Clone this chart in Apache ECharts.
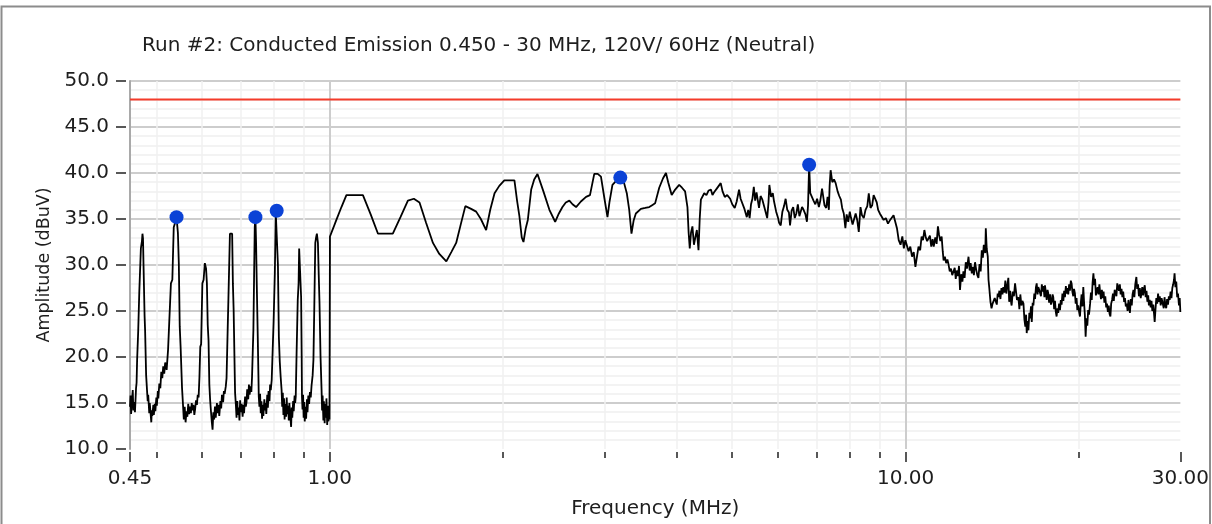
<!DOCTYPE html>
<html>
<head>
<meta charset="utf-8">
<script src="https://cdn.jsdelivr.net/npm/echarts@6/dist/echarts.min.js"></script>
<style>
  html, body { margin: 0; padding: 0; background: #ffffff; }
  #chart { width: 1212px; height: 524px; }
</style>
</head>
<body>
<div id="chart"></div>
<script>
// Run #2 conducted emission scan, neutral line, 0.45 - 30 MHz
const titleText = 'Run #2: Conducted Emission 0.450 - 30 MHz, 120V/ 60Hz (Neutral)';
const xAxisTitle = 'Frequency (MHz)';
const yAxisTitle = 'Amplitude (dBuV)';

// tick positions on the frequency axis (MHz)
const freqMajorTicks = [0.45, 1, 10, 30];
const freqMinorTicks = [0.5, 0.6, 0.7, 0.8, 0.9, 2, 3, 4, 5, 6, 7, 8, 9, 20];

// amplitude axis range (dBuV)
const ampMin = 10;
const ampMax = 50;
const ampStep = 5;

// limit level (dBuV)
const limitLevel = 48.0;

// highlighted peaks [MHz, dBuV]
const peaks = [
  [0.542, 35.2],
  [0.743, 35.2],
  [0.809, 35.9],
  [3.196, 39.5],
  [6.800, 40.9]
];

// measured trace [MHz, dBuV]
const trace = [
  [0.450, 14.6], [0.451, 15.8], [0.452, 13.8], [0.453, 14.9], [0.455, 16.4], [0.456, 14.2],
  [0.458, 15.1], [0.459, 14.0], [0.461, 16.6], [0.462, 17.2], [0.463, 19.7], [0.465, 22.8],
  [0.467, 27.0], [0.469, 27.2], [0.470, 31.8], [0.472, 32.6], [0.473, 33.4], [0.474, 32.9],
  [0.475, 30.0], [0.477, 24.5], [0.478, 22.9], [0.480, 18.0], [0.482, 16.1], [0.483, 15.2],
  [0.484, 15.9], [0.486, 13.9], [0.487, 15.0], [0.488, 14.3], [0.490, 12.9], [0.491, 14.2],
  [0.492, 13.6], [0.494, 14.8], [0.495, 13.7], [0.497, 14.9], [0.498, 14.1], [0.500, 15.6],
  [0.501, 14.7], [0.503, 16.3], [0.504, 15.5], [0.506, 17.1], [0.508, 16.6], [0.510, 18.4],
  [0.512, 17.7], [0.514, 19.0], [0.516, 18.2], [0.518, 19.4], [0.521, 18.6], [0.524, 20.8],
  [0.527, 21.0], [0.530, 28.0], [0.533, 28.4], [0.536, 34.1], [0.539, 34.6], [0.542, 35.2],
  [0.545, 33.5], [0.547, 30.2], [0.549, 23.3], [0.551, 21.0], [0.554, 16.7], [0.556, 15.0],
  [0.558, 13.2], [0.560, 14.6], [0.562, 12.9], [0.564, 14.1], [0.566, 13.5], [0.568, 14.9],
  [0.570, 13.8], [0.572, 14.6], [0.574, 13.9], [0.576, 15.0], [0.578, 14.2], [0.580, 14.8],
  [0.582, 13.7], [0.584, 14.4], [0.586, 15.3], [0.588, 14.8], [0.590, 15.9], [0.592, 15.6],
  [0.594, 17.8], [0.596, 21.1], [0.598, 21.4], [0.601, 28.0], [0.604, 28.4], [0.607, 30.2],
  [0.610, 29.6], [0.612, 28.0], [0.614, 23.5], [0.616, 21.8], [0.618, 17.0], [0.620, 15.3],
  [0.622, 14.1], [0.624, 13.0], [0.626, 12.1], [0.628, 14.0], [0.630, 13.2], [0.632, 14.6],
  [0.634, 13.4], [0.637, 15.0], [0.639, 13.9], [0.641, 14.8], [0.643, 13.6], [0.646, 15.2],
  [0.648, 14.4], [0.650, 15.9], [0.653, 15.1], [0.655, 16.3], [0.657, 16.0], [0.660, 16.8],
  [0.662, 17.7], [0.665, 23.0], [0.667, 26.4], [0.669, 26.6], [0.671, 33.4], [0.674, 33.4],
  [0.677, 33.4], [0.679, 28.0], [0.681, 25.2], [0.682, 22.9], [0.684, 18.2], [0.685, 16.1],
  [0.687, 14.9], [0.689, 13.4], [0.691, 15.2], [0.693, 13.7], [0.695, 14.5], [0.697, 13.1],
  [0.699, 15.3], [0.701, 14.0], [0.703, 14.9], [0.706, 13.5], [0.708, 14.8], [0.710, 13.9],
  [0.713, 15.7], [0.715, 14.6], [0.717, 15.1], [0.719, 16.5], [0.722, 15.4], [0.724, 17.0],
  [0.726, 15.9], [0.729, 16.8], [0.731, 16.2], [0.733, 17.8], [0.735, 20.4], [0.737, 22.9],
  [0.739, 28.5], [0.741, 34.1], [0.743, 35.2], [0.745, 32.4], [0.747, 28.0], [0.750, 22.2],
  [0.752, 18.0], [0.753, 15.7], [0.755, 14.6], [0.757, 16.0], [0.759, 13.9], [0.761, 15.2],
  [0.763, 13.3], [0.765, 14.8], [0.767, 13.6], [0.770, 15.4], [0.772, 14.2], [0.774, 15.0],
  [0.776, 13.8], [0.779, 15.9], [0.781, 14.5], [0.783, 16.3], [0.786, 15.2], [0.788, 17.0],
  [0.790, 16.4], [0.793, 17.5], [0.796, 17.5], [0.799, 23.8], [0.803, 29.1], [0.806, 35.7],
  [0.809, 35.9], [0.811, 35.5], [0.813, 30.0], [0.816, 22.2], [0.819, 19.5], [0.822, 17.8],
  [0.825, 16.4], [0.827, 14.6], [0.829, 16.1], [0.831, 13.7], [0.833, 15.5], [0.835, 13.2],
  [0.837, 14.9], [0.840, 13.5], [0.842, 15.6], [0.844, 13.8], [0.847, 14.7], [0.849, 13.1],
  [0.851, 15.0], [0.854, 13.6], [0.857, 12.4], [0.859, 14.5], [0.861, 13.4], [0.864, 15.2],
  [0.866, 14.1], [0.869, 15.8], [0.871, 15.0], [0.873, 15.7], [0.876, 20.5], [0.880, 26.2],
  [0.883, 28.0], [0.885, 31.8], [0.888, 29.5], [0.892, 26.5], [0.894, 20.0], [0.895, 15.7],
  [0.897, 14.3], [0.899, 15.9], [0.901, 13.4], [0.903, 15.1], [0.905, 13.0], [0.908, 14.6],
  [0.910, 13.3], [0.913, 15.4], [0.915, 14.0], [0.918, 15.8], [0.921, 14.9], [0.924, 16.2],
  [0.927, 15.6], [0.930, 16.9], [0.934, 18.0], [0.937, 19.7], [0.940, 25.0], [0.944, 32.4],
  [0.947, 33.0], [0.950, 33.4], [0.954, 32.4], [0.957, 29.0], [0.960, 25.9], [0.964, 20.0],
  [0.968, 16.4], [0.970, 14.2], [0.972, 15.8], [0.975, 13.1], [0.977, 15.2], [0.980, 12.8],
  [0.982, 14.9], [0.985, 13.4], [0.987, 15.5], [0.990, 12.6], [0.992, 14.7], [0.995, 13.0],
  [0.997, 14.4], [0.999, 13.2],
  [1.001, 33.1], [1.014, 34.0], [1.027, 34.9], [1.048, 36.3], [1.069, 37.6], [1.100, 37.6],
  [1.142, 37.6], [1.178, 35.5], [1.213, 33.4], [1.250, 33.4], [1.287, 33.4], [1.327, 35.2],
  [1.367, 37.0], [1.400, 37.2], [1.432, 36.8], [1.470, 34.6], [1.511, 32.4], [1.550, 31.2],
  [1.594, 30.4], [1.626, 31.4], [1.658, 32.4], [1.690, 34.5], [1.720, 36.4], [1.760, 36.1],
  [1.796, 35.8], [1.830, 35.0], [1.869, 33.8], [1.900, 36.0], [1.933, 37.8], [1.970, 38.6],
  [2.010, 39.2], [2.050, 39.2], [2.093, 39.2], [2.115, 37.0], [2.135, 35.3], [2.155, 33.0],
  [2.170, 32.5], [2.190, 34.0], [2.208, 34.9], [2.238, 38.2], [2.265, 39.3], [2.295, 39.9],
  [2.350, 38.0], [2.407, 36.0], [2.463, 34.7], [2.500, 35.6], [2.536, 36.3], [2.570, 36.8],
  [2.607, 37.0], [2.640, 36.6], [2.678, 36.3], [2.730, 36.9], [2.787, 37.4], [2.831, 37.6],
  [2.880, 39.9], [2.920, 39.9], [2.958, 39.6], [3.000, 37.2], [3.036, 35.2], [3.060, 36.8],
  [3.097, 38.7], [3.150, 39.2], [3.196, 39.5], [3.245, 38.9], [3.280, 37.8], [3.312, 36.0],
  [3.342, 33.4], [3.370, 34.8], [3.401, 35.6], [3.470, 36.1], [3.530, 36.2], [3.588, 36.3],
  [3.630, 36.5], [3.673, 36.7], [3.734, 38.4], [3.790, 39.4], [3.836, 40.0], [3.870, 39.0],
  [3.925, 37.6], [3.980, 38.2], [4.044, 38.7], [4.090, 38.4], [4.141, 38.0], [4.180, 36.3],
  [4.200, 33.5], [4.219, 31.8], [4.240, 33.5], [4.264, 34.2], [4.290, 32.2], [4.311, 32.9],
  [4.340, 33.8], [4.369, 31.6], [4.390, 35.0], [4.411, 37.1], [4.470, 37.8], [4.510, 37.6],
  [4.550, 38.1], [4.591, 38.2], [4.620, 37.6], [4.650, 37.9], [4.700, 38.3], [4.775, 38.9],
  [4.810, 38.0], [4.853, 37.4], [4.900, 37.6], [4.959, 37.2], [5.000, 36.6], [5.050, 36.2],
  [5.090, 36.9], [5.138, 38.2], [5.170, 37.2], [5.200, 37.0], [5.250, 36.1], [5.300, 35.2],
  [5.330, 36.0], [5.360, 35.1], [5.390, 36.6], [5.420, 37.2], [5.450, 38.5], [5.480, 37.0],
  [5.510, 37.9], [5.565, 36.2], [5.600, 37.5], [5.640, 37.1], [5.690, 36.2], [5.750, 35.1],
  [5.780, 36.8], [5.800, 38.7], [5.840, 37.4], [5.880, 37.8], [5.910, 36.9], [5.960, 35.8],
  [6.000, 35.2], [6.030, 34.6], [6.070, 34.3], [6.110, 35.8], [6.150, 36.4], [6.190, 37.2],
  [6.230, 36.0], [6.272, 35.7], [6.300, 34.3], [6.340, 35.9], [6.380, 36.3], [6.420, 35.1],
  [6.460, 35.6], [6.500, 36.6], [6.540, 35.3], [6.570, 35.3], [6.610, 36.3], [6.650, 36.0],
  [6.700, 35.5], [6.740, 34.7], [6.770, 36.5], [6.800, 40.9], [6.830, 37.8], [6.870, 37.8],
  [6.920, 37.0], [6.970, 36.6], [7.020, 37.2], [7.070, 36.3], [7.110, 37.0], [7.160, 38.3],
  [7.230, 36.5], [7.280, 36.2], [7.320, 37.4], [7.358, 36.0], [7.380, 38.6], [7.410, 40.3],
  [7.460, 39.0], [7.510, 39.3], [7.560, 38.9], [7.620, 38.0], [7.670, 37.5], [7.720, 37.1],
  [7.760, 36.2], [7.810, 35.6], [7.860, 34.0], [7.900, 35.5], [7.950, 34.7], [8.000, 35.8],
  [8.040, 35.1], [8.090, 34.4], [8.140, 34.2], [8.190, 35.6], [8.240, 34.9], [8.293, 33.6],
  [8.350, 36.3], [8.400, 35.4], [8.460, 35.1], [8.520, 36.0], [8.580, 36.4], [8.631, 37.8],
  [8.690, 36.2], [8.750, 36.5], [8.800, 37.6], [8.860, 37.8], [8.910, 36.8], [8.960, 36.0],
  [9.020, 35.6], [9.080, 35.3], [9.160, 34.9], [9.240, 35.1], [9.320, 34.5], [9.400, 34.9],
  [9.470, 34.7], [9.530, 35.4], [9.600, 35.2], [9.660, 34.0], [9.728, 32.7], [9.800, 32.2],
  [9.870, 33.1], [9.930, 31.8], [9.990, 32.7],
  [10.05, 32.9], [10.12, 31.5], [10.19, 32.0], [10.26, 30.9], [10.33, 31.4], [10.40, 29.8],
  [10.47, 31.0], [10.53, 32.0], [10.60, 31.6], [10.66, 33.1], [10.72, 32.7], [10.78, 33.8],
  [10.84, 33.0], [10.90, 32.6], [10.96, 32.4], [11.02, 33.2], [11.08, 32.0], [11.14, 32.8],
  [11.19, 32.0], [11.26, 33.0], [11.32, 32.3], [11.38, 34.2], [11.43, 33.3], [11.49, 32.6],
  [11.55, 33.1], [11.60, 31.5], [11.64, 30.5], [11.70, 30.9], [11.76, 30.2], [11.82, 30.6],
  [11.87, 30.1], [11.93, 29.3], [11.99, 29.6], [12.05, 28.9], [12.11, 28.7], [12.17, 29.7],
  [12.22, 28.5], [12.27, 29.4], [12.33, 28.8], [12.38, 29.9], [12.43, 27.3], [12.49, 29.0],
  [12.55, 28.2], [12.60, 29.3], [12.66, 28.6], [12.72, 30.3], [12.78, 29.6], [12.86, 30.9],
  [12.92, 29.4], [12.97, 30.2], [13.03, 29.1], [13.09, 29.8], [13.14, 28.9], [13.20, 30.3],
  [13.26, 29.5], [13.32, 28.9], [13.38, 28.6], [13.44, 30.1], [13.50, 29.3], [13.56, 31.6],
  [13.62, 30.8], [13.67, 32.2], [13.71, 32.4], [13.75, 31.3], [13.78, 34.0], [13.83, 31.8],
  [13.89, 30.9], [13.93, 28.4], [13.97, 27.6], [14.04, 26.0], [14.10, 25.3], [14.16, 25.8],
  [14.22, 25.6], [14.28, 26.4], [14.33, 26.2], [14.40, 25.7], [14.45, 26.9], [14.49, 26.5],
  [14.55, 27.2], [14.61, 26.3], [14.67, 27.5], [14.73, 26.8], [14.78, 27.6], [14.84, 27.0],
  [14.90, 28.3], [14.96, 26.9], [15.02, 27.8], [15.08, 28.6], [15.13, 26.0], [15.19, 27.2],
  [15.25, 25.9], [15.28, 25.6], [15.35, 27.1], [15.42, 26.6], [15.49, 28.0], [15.55, 27.1],
  [15.61, 26.2], [15.70, 26.5], [15.76, 25.2], [15.82, 26.8], [15.89, 25.6], [15.95, 26.1],
  [16.02, 25.8], [16.08, 24.1], [16.14, 23.3], [16.19, 24.6], [16.23, 22.6], [16.28, 23.9],
  [16.34, 22.9], [16.40, 24.8], [16.45, 24.2], [16.51, 25.5], [16.56, 23.8], [16.62, 25.9],
  [16.67, 25.6], [16.73, 26.9], [16.78, 26.3], [16.84, 27.6], [16.89, 28.0], [16.95, 26.8],
  [17.00, 27.6], [17.06, 27.3], [17.12, 27.3], [17.18, 26.6], [17.24, 27.9], [17.30, 27.1],
  [17.36, 27.7], [17.42, 26.5], [17.46, 27.8], [17.52, 27.0], [17.58, 26.2], [17.64, 27.3],
  [17.69, 26.9], [17.75, 25.9], [17.82, 26.8], [17.88, 25.7], [17.94, 26.0], [18.00, 26.8],
  [18.05, 26.5], [18.11, 25.2], [18.17, 26.1], [18.23, 24.9], [18.29, 24.4], [18.35, 25.3],
  [18.41, 24.8], [18.47, 25.8], [18.54, 25.1], [18.60, 26.2], [18.66, 25.7], [18.72, 26.9],
  [18.79, 26.1], [18.85, 27.2], [18.91, 26.5], [18.98, 27.7], [19.04, 26.9], [19.10, 27.5],
  [19.16, 26.8], [19.23, 27.9], [19.29, 27.2], [19.36, 28.3], [19.42, 28.0], [19.48, 27.1],
  [19.55, 26.6], [19.61, 27.4], [19.68, 26.9], [19.74, 25.8], [19.81, 26.4], [19.87, 25.1],
  [19.94, 25.6], [20.01, 24.9], [20.08, 24.4], [20.15, 25.9], [20.21, 26.8], [20.28, 25.5],
  [20.35, 27.6], [20.41, 26.0], [20.48, 24.5], [20.54, 22.2], [20.61, 24.2], [20.68, 23.4],
  [20.75, 25.1], [20.82, 24.6], [20.91, 25.8], [20.98, 27.0], [21.05, 26.2], [21.12, 28.1],
  [21.19, 29.1], [21.26, 27.8], [21.33, 28.5], [21.40, 26.7], [21.48, 26.5], [21.55, 27.6],
  [21.62, 26.8], [21.70, 27.9], [21.77, 27.0], [21.84, 26.3], [21.92, 27.3], [21.99, 26.4],
  [22.07, 27.1], [22.14, 25.9], [22.22, 26.6], [22.30, 25.4], [22.37, 25.8], [22.45, 24.9],
  [22.53, 25.6], [22.60, 24.7], [22.68, 24.4], [22.75, 25.8], [22.83, 26.2], [22.91, 26.9],
  [22.99, 26.1], [23.07, 27.3], [23.15, 27.3], [23.23, 26.6], [23.31, 28.0], [23.39, 28.0],
  [23.47, 27.2], [23.55, 27.9], [23.63, 26.8], [23.71, 27.4], [23.79, 26.5], [23.87, 27.1],
  [23.96, 26.0], [24.04, 26.4], [24.12, 25.5], [24.21, 25.8], [24.29, 25.0], [24.38, 26.2],
  [24.46, 25.3], [24.52, 24.8], [24.61, 26.3], [24.70, 25.6], [24.78, 26.8], [24.87, 27.3],
  [24.96, 26.5], [25.05, 27.9], [25.16, 28.7], [25.24, 27.4], [25.33, 27.9], [25.42, 26.6],
  [25.51, 27.5], [25.60, 26.4], [25.67, 26.9], [25.76, 27.6], [25.85, 26.7], [25.94, 27.4],
  [26.02, 27.8], [26.11, 26.5], [26.20, 27.2], [26.29, 26.0], [26.38, 26.7], [26.45, 25.6],
  [26.54, 26.2], [26.64, 25.4], [26.73, 26.1], [26.82, 25.0], [26.92, 25.7], [27.01, 24.6],
  [27.07, 23.8], [27.16, 25.2], [27.25, 26.4], [27.35, 25.8], [27.44, 26.9], [27.54, 26.0],
  [27.63, 26.6], [27.73, 25.6], [27.83, 26.4], [27.97, 26.2], [28.07, 25.3], [28.16, 26.5],
  [28.26, 25.6], [28.35, 25.3], [28.45, 26.3], [28.55, 25.7], [28.65, 26.6], [28.75, 26.2],
  [28.85, 27.1], [28.95, 26.4], [29.05, 27.5], [29.15, 27.9], [29.25, 28.4], [29.31, 29.1],
  [29.41, 27.6], [29.51, 28.2], [29.62, 26.5], [29.72, 26.9], [29.83, 25.6], [29.92, 26.4],
  [30.00, 24.9]
];

const FONT = 'DejaVu Sans';
const TEXT = '#1e1e1e';
const MAJOR_GRID = '#cdcdcd';
const MINOR_GRID = '#f0f0f0';

const freqMin = freqMajorTicks[0];
const freqMax = freqMajorTicks[freqMajorTicks.length - 1];

function freqAxis(extra) {
  return Object.assign({
    type: 'log',
    logBase: 10,
    min: freqMin,
    max: freqMax,
    gridIndex: 0,
    position: 'bottom',
    offset: 3,
    axisLine: { show: false },
    axisLabel: { show: false },
    axisTick: { show: false },
    splitLine: { show: false },
    minorTick: { show: false },
    minorSplitLine: { show: false }
  }, extra);
}

function ampAxis(extra) {
  return Object.assign({
    type: 'value',
    min: ampMin,
    max: ampMax,
    interval: ampStep,
    gridIndex: 0,
    position: 'left',
    axisLine: { show: false },
    axisLabel: { show: false },
    axisTick: { show: false },
    splitLine: { show: false }
  }, extra);
}

const chart = echarts.init(document.getElementById('chart'), null, { renderer: 'canvas' });

chart.setOption({
  animation: false,
  backgroundColor: '#ffffff',
  textStyle: { fontFamily: FONT },
  title: {
    text: titleText,
    left: 142,
    top: 36,
    padding: 0,
    textStyle: { fontFamily: FONT, fontSize: 20, fontWeight: 'normal', color: TEXT }
  },
  graphic: [{
    type: 'rect',
    silent: true,
    shape: { x: 1.5, y: 6.5, width: 1208.5, height: 600 },
    style: { fill: 'none', stroke: '#8c8c8c', lineWidth: 2 },
    z: 100
  }],
  grid: { left: 130, top: 81, right: 29.5, bottom: 75, containLabel: false },
  xAxis: [
    // main frequency axis: labels, long ticks, decade grid lines
    freqAxis({
      name: xAxisTitle,
      nameLocation: 'middle',
      nameGap: 47,
      nameTextStyle: { fontFamily: FONT, fontSize: 20, color: TEXT },
      axisTick: { show: true, customValues: freqMajorTicks, length: 10, lineStyle: { color: '#222', width: 1.5 } },
      axisLabel: {
        show: true, customValues: freqMajorTicks, margin: 17,
        fontFamily: FONT, fontSize: 20, color: TEXT,
        formatter: v => Number(v).toFixed(2)
      },
      splitLine: { show: true, showMinLine: false, showMaxLine: false, lineStyle: { color: MAJOR_GRID, width: 2 } }
    }),
    // in-between frequencies: short ticks and faint grid lines
    freqAxis({
      axisTick: { show: true, customValues: freqMinorTicks, length: 6, lineStyle: { color: '#222', width: 1.5 } },
      splitLine: { show: true, lineStyle: { color: MINOR_GRID, width: 1.5 } }
    })
  ],
  yAxis: [
    // amplitude axis: labels, grid and the left frame line
    ampAxis({
      name: yAxisTitle,
      nameLocation: 'middle',
      nameRotate: 90,
      nameGap: 76,
      nameTextStyle: { fontFamily: FONT, fontSize: 17.5, color: TEXT },
      axisLine: { show: true, lineStyle: { color: '#a9a9a9', width: 2 } },
      axisLabel: {
        show: true, margin: 21, fontFamily: FONT, fontSize: 20, color: TEXT,
        formatter: v => Number(v).toFixed(1)
      },
      splitLine: { show: true, showMinLine: false, lineStyle: { color: MAJOR_GRID, width: 2 } },
      minorTick: { show: false, splitNumber: 5 },
      minorSplitLine: { show: true, lineStyle: { color: MINOR_GRID, width: 1.5 } }
    }),
    // tick marks, set a little away from the frame line
    ampAxis({
      offset: 4,
      axisTick: { show: true, length: 10, lineStyle: { color: '#222', width: 1.5 } }
    })
  ],
  series: [
    {
      name: 'Limit',
      type: 'line',
      xAxisIndex: 0,
      yAxisIndex: 0,
      data: [[freqMin, limitLevel], [freqMax, limitLevel]],
      showSymbol: false,
      silent: true,
      lineStyle: { color: '#f43b2a', width: 2 },
      z: 3
    },
    {
      name: 'Neutral',
      type: 'line',
      xAxisIndex: 0,
      yAxisIndex: 0,
      data: trace,
      showSymbol: false,
      sampling: null,
      silent: true,
      lineStyle: { color: '#000000', width: 1.8 },
      z: 4
    },
    {
      name: 'Peaks',
      type: 'scatter',
      xAxisIndex: 0,
      yAxisIndex: 0,
      data: peaks,
      symbol: 'circle',
      symbolSize: 14,
      silent: true,
      itemStyle: { color: '#0b42d6', opacity: 1 },
      z: 5
    }
  ]
});
</script>
</body>
</html>
